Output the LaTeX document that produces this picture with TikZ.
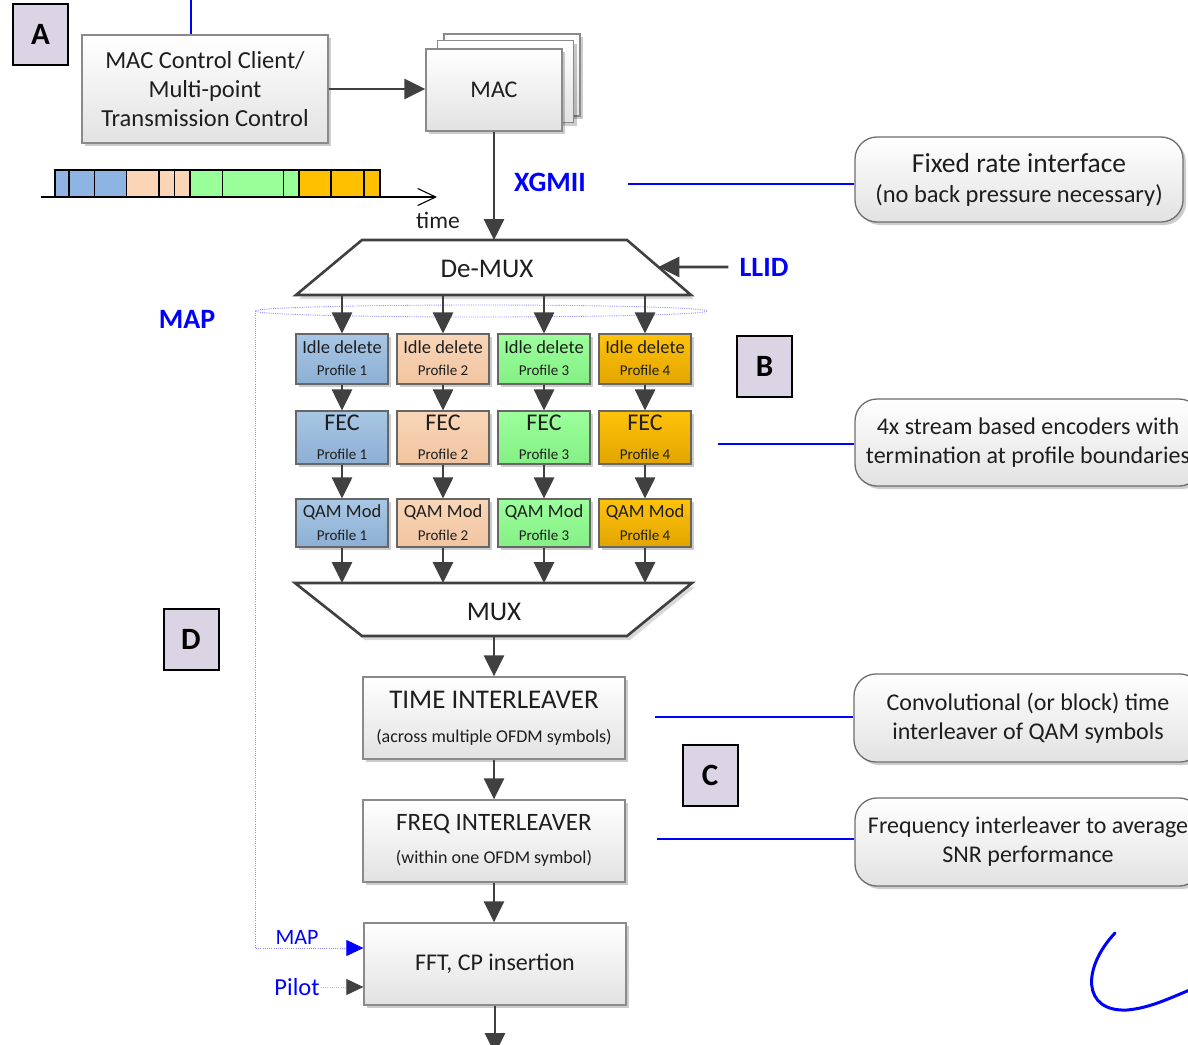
\documentclass[tikz,border=0pt]{standalone}
\usepackage{fontspec}
\setmainfont{Carlito}
\usetikzlibrary{arrows.meta,shadows,calc}
\newcommand\myfs[2]{\fontsize{#1}{#2}\selectfont}
\definecolor{ag}{HTML}{404040}
\definecolor{txt}{HTML}{1E1E1E}
\definecolor{bxline}{HTML}{8A8A8A}
\definecolor{bxbot}{HTML}{E2E2E2}
\definecolor{lav}{HTML}{DAD4E5}
\definecolor{pblueT}{HTML}{A9C7E5}
\definecolor{pblueB}{HTML}{8CAFD4}
\definecolor{ppeachT}{HTML}{F9D6B8}
\definecolor{ppeachB}{HTML}{F1C4A0}
\definecolor{pgreenT}{HTML}{9CFF9C}
\definecolor{pgreenB}{HTML}{84F084}
\definecolor{porangeT}{HTML}{FFC20A}
\definecolor{porangeB}{HTML}{E2A500}
\definecolor{tblue}{HTML}{8EB4E3}
\definecolor{tpeach}{HTML}{FBD5B5}
\definecolor{tgreen}{HTML}{99FF99}
\definecolor{torange}{HTML}{FFC000}
\definecolor{mapc}{HTML}{8C8CFF}
\definecolor{xblue}{HTML}{0000FF}
\definecolor{pilc}{HTML}{BBBBBB}

\tikzset{
  shad/.style={drop shadow={shadow xshift=3pt,shadow yshift=-3pt,fill=black,opacity=0.2}},
  graybox/.style={shad,draw=bxline,line width=1.3pt,top color=white,bottom color=bxbot,inner sep=0pt,text=txt,align=center},
  pbox/.style 2 args={shad,draw=ag!80,line width=1.1pt,top color=#1,bottom color=#2,minimum width=92pt,inner sep=0pt},
  note/.style={shad,draw=bxline!80!black,line width=1.3pt,rounded corners=22pt,top color=white,bottom color=bxbot,inner sep=0pt,text=txt,align=center},
  tag/.style={draw=black,line width=2pt,fill=lav,minimum width=55pt,minimum height=61pt,inner sep=0pt,font=\bfseries\myfs{31}{31}},
  arr/.style={draw=ag,line width=2.8pt,-{Triangle[length=21pt,width=20pt]}},
  bline/.style={draw=xblue,line width=1.2pt},
  btxt/.style={text=xblue,font=\bfseries\myfs{28}{28},inner sep=1pt},
  ptxt/.style={text=txt,inner sep=0pt},
  trap/.style={draw=ag,line width=2.6pt,fill=white,line join=miter},
  trapshad/.style={fill=black,opacity=0.15},
  seg/.style={draw=black,line width=1.1pt},
  mapdot/.style={draw=mapc,line width=0.9pt,dash pattern=on 1pt off 1.2pt},
  pildot/.style={draw=pilc,line width=0.9pt,dash pattern=on 1pt off 1.2pt},
}

\newcommand\profcol[4]{%
  \node[pbox={#3}{#4},minimum height=50pt] (i#1) at (#2,359) {};
  \node[ptxt,font=\myfs{18.5}{18.5}] at ([yshift=12pt]i#1.center) {Idle delete};
  \node[ptxt,font=\myfs{15}{15}] at ([yshift=-11pt]i#1.center) {Profile #1};
  \node[pbox={#3}{#4},minimum height=53pt] (f#1) at (#2,437.5) {};
  \node[ptxt,font=\myfs{24}{24}] at ([yshift=14.5pt]f#1.center) {FEC};
  \node[ptxt,font=\myfs{15}{15}] at ([yshift=-16.5pt]f#1.center) {Profile #1};
  \node[pbox={#3}{#4},minimum height=48pt] (q#1) at (#2,523) {};
  \node[ptxt,font=\myfs{18.5}{18.5}] at ([yshift=11pt]q#1.center) {QAM Mod};
  \node[ptxt,font=\myfs{15}{15}] at ([yshift=-12pt]q#1.center) {Profile #1};
  \draw[arr] (i#1 |- dbl) -- (i#1.north);
  \draw[arr] (i#1.south) -- (f#1.north);
  \draw[arr] (f#1.south) -- (q#1.north);
  \draw[arr] (q#1.south) -- (q#1.south |- mtl);
}

\begin{document}
\begin{tikzpicture}[x=1pt,y=-1pt]
\useasboundingbox (0,0) rectangle (1188,1044);
\fill[white] (0,0) rectangle (1188,1044);

% tags
\node[tag] (tA) at (40.5,34.5) {A};
\node[tag] (tB) at (764.5,366) {B};
\node[tag] (tC) at (710,775.5) {C};
\node[tag] (tD) at (191,639) {D};

% MAC control client
\node[graybox,minimum width=246pt,minimum height=108pt,font=\myfs{24.5}{29}] (mcc) at (205,89)
  {MAC Control Client/\\Multi-point\\Transmission Control};
\coordinate (topA) at (191,0);
\draw[bline] (topA) -- (topA |- mcc.north);

% MAC stack
\node[graybox,minimum width=136pt,minimum height=82pt] (mac3) at (512,75) {};
\node[graybox,minimum width=136pt,minimum height=82pt] (mac2) at (505.5,81.5) {};
\node[graybox,minimum width=136pt,minimum height=82pt,font=\myfs{24}{24}] (mac) at (494,90) {MAC};
\draw[arr] (mcc.east) -- (mcc.east -| mac.west);

% timeline
\draw[seg,fill=tblue] (55,170) rectangle (69,197);
\draw[seg,fill=tblue] (69,170) rectangle (94.3,197);
\draw[seg,fill=tblue] (94.3,170) rectangle (126.7,197);
\draw[seg,fill=tpeach] (126.7,170) rectangle (159,197);
\draw[seg,fill=tpeach] (159,170) rectangle (174.3,197);
\draw[seg,fill=tpeach] (174.3,170) rectangle (190,197);
\draw[seg,fill=tgreen] (190,170) rectangle (222.3,197);
\draw[seg,fill=tgreen] (222.3,170) rectangle (283.7,197);
\draw[seg,fill=tgreen] (283.7,170) rectangle (299,197);
\draw[seg,fill=torange] (299,170) rectangle (331,197);
\draw[seg,fill=torange] (331,170) rectangle (364,197);
\draw[seg,fill=torange] (364,170) rectangle (380,197);
\coordinate (t0) at (41,197);
\coordinate (t1) at (437,197);
\draw[line width=1.1pt,-{Straight Barb[length=18pt,width=17pt,line width=1.1pt]}] (t0) -- (t1);
\node[ptxt,font=\myfs{23.5}{23.5}] (tlbl) at (438,220) {time};

% De-MUX
\coordinate (dtl) at (362,240);
\coordinate (dtr) at (627,240);
\coordinate (dbl) at (296,295);
\coordinate (dbr) at (691,295);
\coordinate (dtop) at (494,240);
\fill[trapshad] ($(dtl)+(3,4)$) -- ($(dtr)+(3,4)$) -- ($(dbr)+(3,4)$) -- ($(dbl)+(3,4)$) -- cycle;
\draw[trap] (dtl) -- (dtr) -- (dbr) -- (dbl) -- cycle;
\node[ptxt,font=\myfs{27}{27}] (demux) at (487,269) {De-MUX};
\draw[arr] (mac.south) -- (dtop);

% XGMII
\node[btxt] (xg) at (550,182) {XGMII};
\node[note,minimum width=328pt,minimum height=85pt] (n1) at (1019,179.5) {};
\node[ptxt,font=\myfs{27.5}{27.5}] at ([yshift=16pt]n1.center) {Fixed rate interface};
\node[ptxt,font=\myfs{24.5}{24.5}] at ([yshift=-16pt]n1.center) {(no back pressure necessary)};
\coordinate (c1) at (628,184);
\draw[bline] (c1) -- (c1 -| n1.west);

% LLID
\node[btxt] (llid) at (764,267) {LLID};
\draw[arr,shorten <=10pt] (llid.west) -- ($(dtr)!0.49!(dbr)$);

% MAP bold
\node[btxt] (maplbl) at (187,319) {MAP};

% MUX
\coordinate (mtl) at (295,583);
\coordinate (mtr) at (692,583);
\coordinate (mbl) at (362,636);
\coordinate (mbr) at (627,636);
\coordinate (mbot) at (494,636);
\fill[trapshad] ($(mtl)+(3,4)$) -- ($(mtr)+(3,4)$) -- ($(mbr)+(3,4)$) -- ($(mbl)+(3,4)$) -- cycle;
\draw[trap] (mtl) -- (mtr) -- (mbr) -- (mbl) -- cycle;
\node[ptxt,font=\myfs{27}{27}] (mux) at (494,612) {MUX};

% MAP dotted ellipse
\draw[mapdot] (481,311) ellipse [x radius=226pt,y radius=6pt];

% profile columns
\profcol{1}{342}{pblueT}{pblueB}
\profcol{2}{443}{ppeachT}{ppeachB}
\profcol{3}{544}{pgreenT}{pgreenB}
\profcol{4}{645}{porangeT}{porangeB}

% 4x note
\node[note,minimum width=346pt,minimum height=87pt,font=\myfs{24}{29}] (n2) at (1028,442.5)
  {4x stream based encoders with\\termination at profile boundaries};
\coordinate (c2) at (718,444);
\draw[bline] (c2) -- (c2 -| n2.west);

% interleavers
\node[graybox,minimum width=262pt,minimum height=82pt] (ti) at (494,718) {};
\node[ptxt,font=\myfs{27}{27}] at ([yshift=18pt]ti.center) {TIME INTERLEAVER};
\node[ptxt,font=\myfs{18}{18}] at ([yshift=-19pt]ti.center) {(across multiple OFDM symbols)};
\node[graybox,minimum width=262pt,minimum height=82pt] (fi) at (494,841) {};
\node[ptxt,font=\myfs{25}{25}] at ([yshift=17pt]fi.center) {FREQ INTERLEAVER};
\node[ptxt,font=\myfs{18}{18}] at ([yshift=-17pt]fi.center) {(within one OFDM symbol)};
\node[graybox,minimum width=262pt,minimum height=82pt,font=\myfs{24}{24}] (fft) at (495,964) {FFT, CP insertion};
\draw[arr] (mbot) -- (ti.north);
\draw[arr] (ti.south) -- (fi.north);
\draw[arr] (fi.south) -- (fi.south |- fft.north);
\coordinate (outb) at (495,1054);
\draw[arr] (fft.south) -- (outb);

\node[note,minimum width=348pt,minimum height=88pt,font=\myfs{24}{29}] (n3) at (1028,718)
  {Convolutional (or block) time\\interleaver of QAM symbols};
\coordinate (c3) at (655,717);
\draw[bline] (c3) -- (c3 -| n3.west);
\node[note,minimum width=346pt,minimum height=88pt,font=\myfs{24}{29}] (n4) at (1028,842)
  {Frequency interleaver to average\\SNR performance};
\coordinate (c4) at (657,839);
\draw[bline] (c4) -- (c4 -| n4.west);

% MAP / Pilot inputs
\coordinate (mA) at (255,311);
\coordinate (mB) at (255,948);
\draw[mapdot,-{Triangle[length=17pt,width=16pt,color=xblue]}] (mA) -- (mB) -- (mB -| fft.west);
\node[text=xblue,font=\myfs{22}{22},inner sep=1pt] (map2) at (297,937) {MAP};
\node[text=xblue,font=\myfs{24.5}{24.5},inner sep=1pt] (pilot) at (297,987) {Pilot};
\draw[pildot,-{Triangle[length=17pt,width=16pt,color=ag]}] (pilot.east) -- (pilot.east -| fft.west);

% blue curve
\draw[xblue,line width=3pt,line cap=round] (1115,933) .. controls (1082,968) and (1082,1012) .. (1127,1010)
  .. controls (1150,1008) and (1170,998) .. (1192,989);
\end{tikzpicture}
\end{document}
